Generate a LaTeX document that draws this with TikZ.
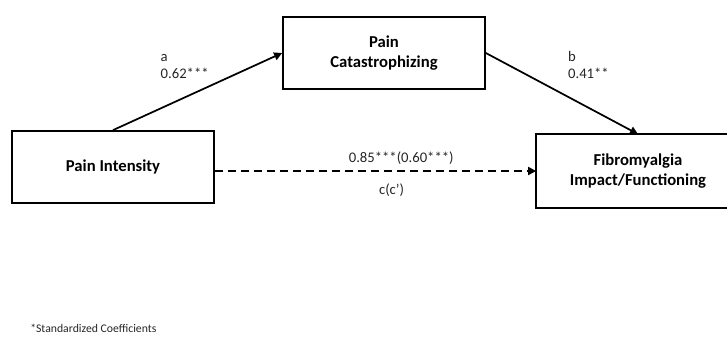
\documentclass[tikz,border=0pt]{standalone}
\usepackage{fontspec}
\setmainfont{Carlito}
\usetikzlibrary{arrows.meta}
\tikzset{
    var/.style={
        draw,
        line width=1.3pt,
        minimum width=151.5pt,
        minimum height=54pt,
        align=center,
        font=\bfseries\fontsize{12.5}{15.5}\selectfont},
    coef/.style={
        align=left,
        inner sep=0pt,
        text=black!85,
        font=\fontsize{11}{12.75}\selectfont},
    effect/.style={
        draw,
        line width=1.3pt,
        -{Triangle[length=6pt,width=6pt]}}}

\begin{document}
\begin{tikzpicture}[x=0.75pt,y=-0.75pt]
        \useasboundingbox (0,0) rectangle (727,336);
        \clip (0,0) rectangle (727,336);
        \node[var] (pi) at (113,167) {Pain Intensity};
        \node[var] (pc) at (384,53) {Pain\\Catastrophizing};
        \node[var, draw=none] (fib) at (638,171) {Fibromyalgia\\Impact/Functioning};
        \draw[line width=1.3pt] ([xshift=30pt]fib.north east) -- (fib.north west)
            -- (fib.south west) -- ([xshift=30pt]fib.south east);
        \draw[effect] (pi.north) -- (pc.west)
            node[coef, pos=0.55, anchor=south east, xshift=2.6pt, yshift=6pt] {a\\0.62***};
        \draw[effect] (pc.east) -- (fib.north)
            node[coef, pos=0.5, anchor=south west, xshift=4pt, yshift=10.5pt] {b\\0.41**};
        \draw[effect, dash pattern=on 6pt off 3.75pt] (fib.west -| pi.east) -- (fib.west)
            node[coef, pos=0.58, above=4pt] {0.85***(0.60***)}
            node[coef, pos=0.55, below=9pt] {c(c’)};
        \node[coef, anchor=west, font=\fontsize{8.8}{10}\selectfont] (note) at (30,328) {*Standardized Coefficients};
    \end{tikzpicture}
\end{document}
